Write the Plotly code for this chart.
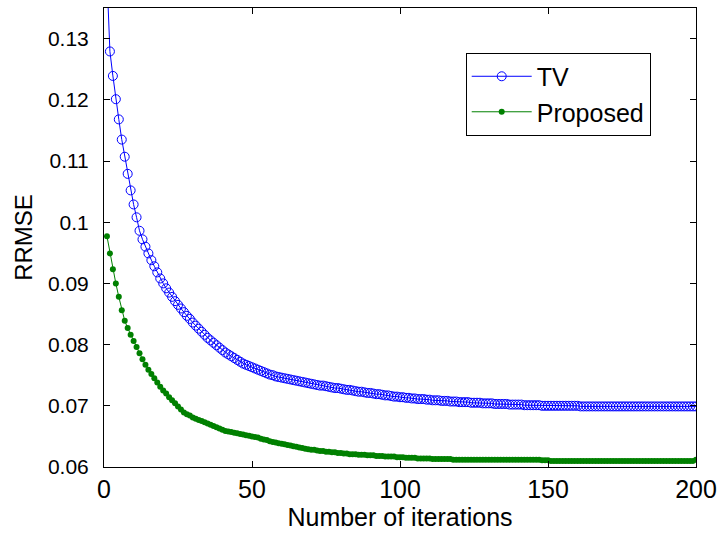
import plotly.graph_objects as go

iterations = list(range(1, 201))

tv_rrmse = [
    0.1400, 0.1279, 0.1239, 0.1201, 0.1168, 0.1135, 0.1107, 0.1079, 0.1052, 0.1029,
    0.1008, 0.0986, 0.0972, 0.0960, 0.0949, 0.0938, 0.0928, 0.0918, 0.0908, 0.0900,
    0.0892, 0.0885, 0.0878, 0.0871, 0.0865, 0.0859, 0.0853, 0.0847, 0.0842, 0.0836,
    0.0831, 0.0826, 0.0821, 0.0816, 0.0811, 0.0807, 0.0803, 0.0799, 0.0795, 0.0791,
    0.0787, 0.0784, 0.0781, 0.0778, 0.0775, 0.0772, 0.0769, 0.0767, 0.0765, 0.0763,
    0.0761, 0.0759, 0.0757, 0.0755, 0.0753, 0.0751, 0.0750, 0.0748, 0.0747, 0.0746,
    0.0745, 0.0744, 0.0743, 0.0742, 0.0741, 0.0740, 0.0739, 0.0738, 0.0737, 0.0736,
    0.0735, 0.0734, 0.0733, 0.0733, 0.0732, 0.0731, 0.0730, 0.0729, 0.0729, 0.0728,
    0.0727, 0.0726, 0.0726, 0.0725, 0.0724, 0.0723, 0.0723, 0.0722, 0.0721, 0.0721,
    0.0720, 0.0719, 0.0719, 0.0718, 0.0717, 0.0717, 0.0716, 0.0715, 0.0715, 0.0714,
    0.0714, 0.0713, 0.0713, 0.0712, 0.0712, 0.0711, 0.0711, 0.0711, 0.0710, 0.0710,
    0.0709, 0.0709, 0.0709, 0.0708, 0.0708, 0.0708, 0.0707, 0.0707, 0.0707, 0.0706,
    0.0706, 0.0706, 0.0706, 0.0705, 0.0705, 0.0705, 0.0705, 0.0704, 0.0704, 0.0704,
    0.0704, 0.0703, 0.0703, 0.0703, 0.0703, 0.0703, 0.0702, 0.0702, 0.0702, 0.0702,
    0.0702, 0.0701, 0.0701, 0.0701, 0.0701, 0.0701, 0.0701, 0.0700, 0.0700, 0.0700,
    0.0700, 0.0700, 0.0700, 0.0700, 0.0700, 0.0700, 0.0700, 0.0700, 0.0700, 0.0700,
    0.0699, 0.0699, 0.0699, 0.0699, 0.0699, 0.0699, 0.0699, 0.0699, 0.0699, 0.0699,
    0.0699, 0.0699, 0.0699, 0.0699, 0.0699, 0.0699, 0.0699, 0.0699, 0.0699, 0.0699,
    0.0699, 0.0699, 0.0699, 0.0699, 0.0699, 0.0699, 0.0699, 0.0699, 0.0699, 0.0699,
    0.0699, 0.0699, 0.0699, 0.0699, 0.0699, 0.0699, 0.0699, 0.0699, 0.0699, 0.0699,
]

proposed_rrmse = [
    0.0977, 0.0949, 0.0923, 0.0900, 0.0878, 0.0856, 0.0839, 0.0827, 0.0816, 0.0806,
    0.0796, 0.0786, 0.0776, 0.0767, 0.0759, 0.0752, 0.0745, 0.0738, 0.0731, 0.0725,
    0.0720, 0.0714, 0.0709, 0.0704, 0.0699, 0.0694, 0.0689, 0.0686, 0.0684, 0.0681,
    0.0679, 0.0677, 0.0675, 0.0673, 0.0671, 0.0669, 0.0667, 0.0665, 0.0663, 0.0661,
    0.0659, 0.0658, 0.0657, 0.0656, 0.0655, 0.0654, 0.0653, 0.0652, 0.0651, 0.0650,
    0.0649, 0.0648, 0.0646, 0.0645, 0.0644, 0.0642, 0.0641, 0.0640, 0.0639, 0.0638,
    0.0637, 0.0636, 0.0635, 0.0634, 0.0633, 0.0632, 0.0631, 0.0630, 0.0629, 0.0628,
    0.0628, 0.0627, 0.0626, 0.0626, 0.0625, 0.0625, 0.0624, 0.0624, 0.0623, 0.0623,
    0.0622, 0.0622, 0.0621, 0.0621, 0.0621, 0.0620, 0.0620, 0.0620, 0.0619, 0.0619,
    0.0619, 0.0618, 0.0618, 0.0618, 0.0617, 0.0617, 0.0617, 0.0617, 0.0616, 0.0616,
    0.0616, 0.0615, 0.0615, 0.0615, 0.0615, 0.0614, 0.0614, 0.0614, 0.0614, 0.0614,
    0.0613, 0.0613, 0.0613, 0.0613, 0.0613, 0.0613, 0.0613, 0.0612, 0.0612, 0.0612,
    0.0612, 0.0612, 0.0612, 0.0612, 0.0612, 0.0612, 0.0612, 0.0612, 0.0612, 0.0612,
    0.0612, 0.0612, 0.0612, 0.0612, 0.0612, 0.0612, 0.0612, 0.0612, 0.0612, 0.0612,
    0.0612, 0.0612, 0.0612, 0.0612, 0.0612, 0.0612, 0.0612, 0.0611, 0.0611, 0.0611,
    0.0610, 0.0610, 0.0610, 0.0610, 0.0610, 0.0610, 0.0610, 0.0610, 0.0610, 0.0610,
    0.0610, 0.0610, 0.0610, 0.0610, 0.0610, 0.0610, 0.0610, 0.0610, 0.0610, 0.0610,
    0.0610, 0.0610, 0.0610, 0.0610, 0.0610, 0.0610, 0.0610, 0.0610, 0.0610, 0.0610,
    0.0610, 0.0610, 0.0610, 0.0610, 0.0610, 0.0610, 0.0610, 0.0610, 0.0610, 0.0610,
    0.0610, 0.0610, 0.0610, 0.0610, 0.0610, 0.0610, 0.0610, 0.0610, 0.0610, 0.0612,
]

x_ticks = [0, 50, 100, 150, 200]
x_tick_labels = ["0", "50", "100", "150", "200"]
y_ticks = [0.06, 0.07, 0.08, 0.09, 0.10, 0.11, 0.12, 0.13]
y_tick_labels = ["0.06", "0.07", "0.08", "0.09", "0.1", "0.11", "0.12", "0.13"]

FONT = "Liberation Sans, Arial, Helvetica, sans-serif"

fig = go.Figure()
fig.add_trace(go.Scatter(
    x=iterations, y=tv_rrmse, name="TV", mode="lines+markers",
    line=dict(color="#0000FF", width=1),
    marker=dict(symbol="circle-open", size=9, color="#0000FF", line=dict(width=1, color="#0000FF")),
))
fig.add_trace(go.Scatter(
    x=iterations, y=proposed_rrmse, name="Proposed", mode="lines+markers",
    line=dict(color="#008000", width=1),
    marker=dict(symbol="circle", size=6, color="#008000", line=dict(width=0)),
))

fig.update_layout(
    width=720, height=535,
    margin=dict(l=104, r=24, t=8, b=68, pad=0, autoexpand=False),
    paper_bgcolor="white", plot_bgcolor="white",
    font=dict(family=FONT, color="black", size=22),
    showlegend=True,
    legend=dict(
        x=0.611, y=0.903, xanchor="left", yanchor="top",
        bgcolor="white", bordercolor="black", borderwidth=1,
        font=dict(family=FONT, size=25, color="black"),
        itemwidth=60,
    ),
    xaxis=dict(
        range=[0, 200], tickmode="array", tickvals=x_ticks, ticktext=x_tick_labels,
        ticks="inside", ticklen=6, tickwidth=1, tickcolor="black",
        showline=True, linecolor="black", linewidth=1, mirror="ticks",
        showgrid=False, zeroline=False, automargin=False,
        tickfont=dict(family=FONT, size=25),
        ticklabelstandoff=0,
        title=dict(text="Number of iterations", font=dict(family=FONT, size=25), standoff=4),
    ),
    yaxis=dict(
        range=[0.06, 0.135], tickmode="array", tickvals=y_ticks, ticktext=y_tick_labels,
        ticks="inside", ticklen=6, tickwidth=1, tickcolor="black",
        showline=True, linecolor="black", linewidth=1, mirror="ticks",
        showgrid=False, zeroline=False, automargin=False,
        tickfont=dict(family=FONT, size=21),
        ticklabelstandoff=10,
        title=dict(text="RRMSE", font=dict(family=FONT, size=24), standoff=8),
    ),
)

fig.write_html("out.html")
